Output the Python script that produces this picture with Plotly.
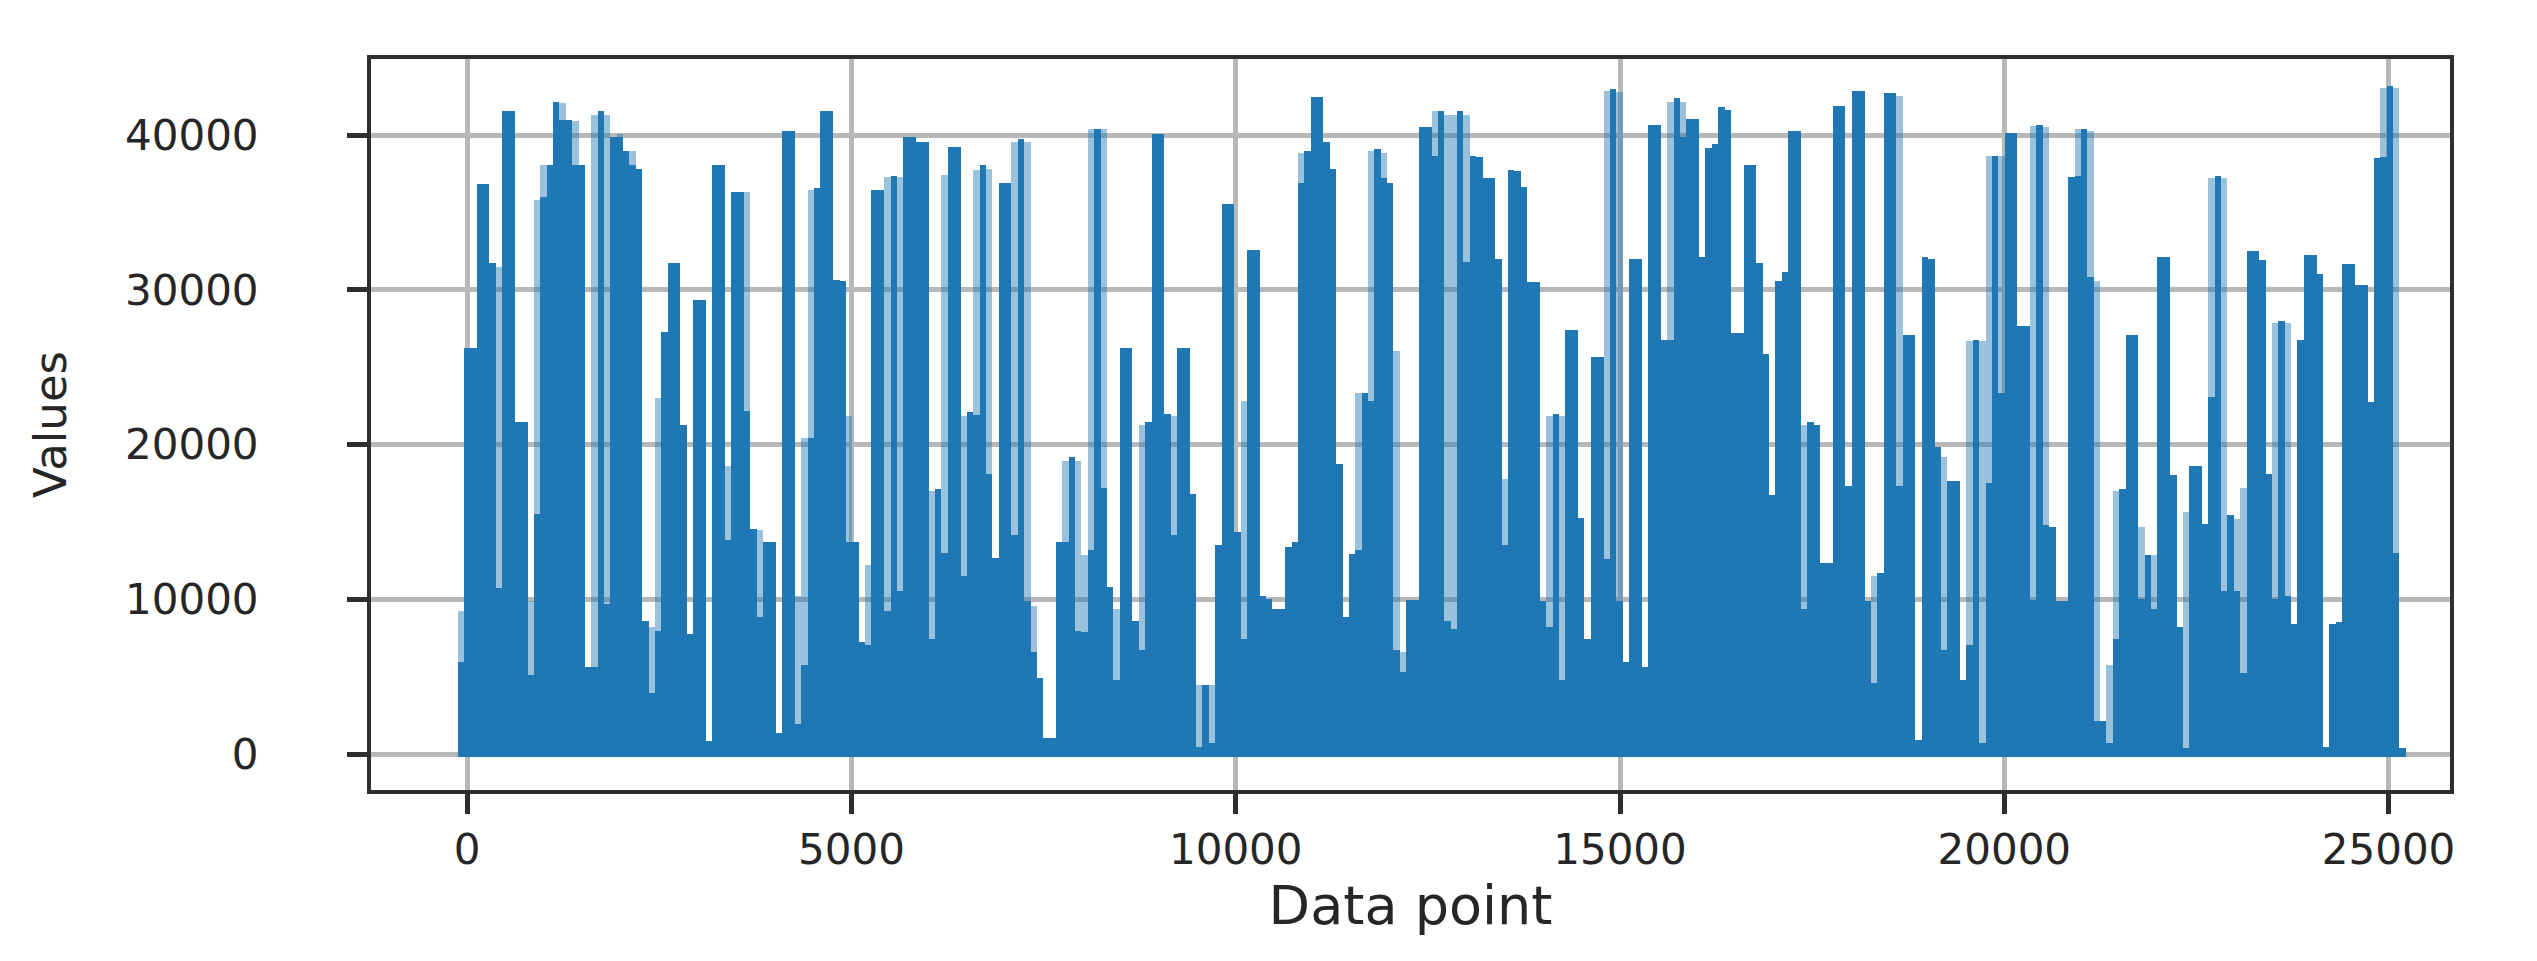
import numpy as np
import plotly.graph_objects as go

# Tallest reach in each plotted column (pale cap included)
peak_values = [
9230,26220,26220,36870,36870,31730,31500,41560,41560,21500,
21500,9890,35780,38090,38090,42150,42050,40990,40900,38090,
5610,41290,41560,41290,39910,40070,38980,38980,37830,8580,
8250,22990,27310,31730,31730,21270,7750,29350,29350,830,
38090,38090,18630,36340,36340,36340,14580,14510,13690,13690,
1390,40300,40300,10220,20450,36440,36610,41560,41560,30670,
30600,21830,13690,7260,12200,36440,36440,37270,37330,37270,
39910,39910,39580,39580,16990,17150,37430,39250,39250,21830,
22100,37760,38090,37830,12700,36940,36940,39580,39740,39580,
9560,4950,1060,1060,13690,18960,19190,18960,12860,40400,
40400,40400,10820,9400,26220,26220,8580,21270,21500,40070,
40070,22000,21830,26220,26220,16820,4450,4450,4450,13520,
35550,35550,14350,22820,32580,32580,10220,10060,9400,9400,
13420,13690,38850,38980,42480,42480,39580,37830,18730,8840,
12930,23320,23320,38980,39080,38850,36940,26050,6600,9960,
9960,40500,40500,41560,41560,41290,41290,41560,41290,38650,
38590,37200,37200,31990,17810,37760,37660,36670,30510,30510,
9890,21830,22000,21830,27440,27440,15240,7420,25660,25660,
42870,43010,42810,5940,31990,31990,5670,40630,40630,26780,
42150,42380,42150,41060,41060,32160,39180,39410,41820,41620,
27210,27210,38090,38090,31730,25890,16720,30600,31170,40300,
40300,21270,21500,21270,12370,12370,41890,41890,17310,42870,
42870,9890,11540,11710,42710,42710,42540,27110,27110,920,
32160,31990,19850,19190,17640,17640,4780,26710,26780,26710,
38650,38650,38650,40140,40140,27700,27700,40560,40630,40500,
14680,9890,9890,37270,40400,40400,40240,30600,2140,5770,
16980,17150,27110,27110,14680,12860,12860,32160,32160,18070,
8250,15660,18630,18630,14910,37200,37330,37200,15430,15170,
17220,32490,32490,31920,18140,27870,27970,27870,8410,26780,
32250,32250,31000,490,8410,8570,31660,31660,30340,30340,
22760,38520,43040,43200,43040,400]

# Height up to which the same column is fully solid
solid_values = [
5940,26220,26220,36870,36870,31730,10720,41560,41560,21500,
21500,5110,15500,36010,38090,42150,40990,40990,38090,38090,
5610,5670,41560,9730,39910,39910,38980,38090,37830,8580,
3960,7980,27310,31730,31730,21270,7750,29350,29350,830,
38090,38090,13850,36340,36340,22160,14580,8900,13690,13690,
1390,40300,40300,1980,5770,20450,36610,41560,41560,30670,
30600,13690,13690,7260,7090,36440,36440,9230,37330,10550,
39910,39910,39580,39580,7420,17150,13030,39250,39250,11540,
22100,21930,38090,18140,12700,36940,36940,14180,39740,9890,
6600,4950,1060,1060,13690,13690,19190,7980,7920,13190,
40400,17220,10820,4780,26220,26220,8580,6760,21500,40070,
40070,22000,14180,26220,26220,16820,500,4450,730,13520,
35550,35550,14350,7420,32580,32580,10220,10060,9400,9400,
13420,13690,36940,38980,42480,42480,39580,37830,18730,8840,
12930,13190,23320,22820,39080,37200,36940,6760,5340,9960,
9960,40500,40500,38650,41560,8580,8080,41560,31830,38650,
38590,37200,37200,31990,13520,37760,37660,36670,30510,30510,
9890,8250,22000,4780,27440,27440,15240,7420,25660,25660,
12600,43010,9890,5940,31990,31990,5670,40630,40630,26780,
26780,42380,39910,41060,41060,32160,39180,39410,41820,41620,
27210,27210,38090,38090,31730,25890,16720,30600,31170,40300,
40300,9400,21500,21270,12370,12370,41890,41890,17310,42870,
42870,9890,4620,11710,42710,42710,17310,27110,27110,920,
32160,31990,19850,6760,17640,17640,4780,7090,26780,730,
17550,38650,23350,40140,40140,27700,27700,9960,40630,14840,
14680,9890,9890,37270,37330,40400,30840,2140,2140,730,
7420,17150,27110,27110,10060,12860,9400,32160,32160,18070,
8250,400,18630,18630,14910,23090,37330,10550,15430,10550,
5280,32490,32490,31920,18140,10060,27970,10220,8410,26780,
32250,32250,31000,490,8410,8570,31660,31660,30340,30340,
22760,38520,38590,43200,13030,400]

assert len(peak_values) == len(solid_values) == 306

first_column_x = -84
column_step = 82.84
column_x = first_column_x + column_step * np.arange(len(peak_values))
floor_value = -170

x_ticks = [0, 5000, 10000, 15000, 20000, 25000]
y_ticks = [0, 10000, 20000, 30000, 40000]

BLUE = "#1f77b4"
INK = "#262626"
SPINE = "#2e2e2e"

fig = go.Figure()
fig.add_bar(x=column_x, y=np.array(peak_values) - floor_value, base=floor_value,
            width=column_step, marker=dict(color="rgba(31,119,180,0.45)", line_width=0),
            hoverinfo="skip")
fig.add_bar(x=column_x, y=np.array(solid_values) - floor_value, base=floor_value,
            width=column_step, marker=dict(color=BLUE, line_width=0),
            hoverinfo="skip")

axis = dict(
    showline=True, mirror=True, linecolor=SPINE, linewidth=4,
    showgrid=True, gridcolor="#b8b8b8", gridwidth=5, zeroline=False,
    ticks="outside", ticklen=20, tickwidth=5, tickcolor=SPINE,
    tickfont=dict(family="DejaVu Sans", size=42, color=INK),
)
fig.update_xaxes(axis, range=[-1252, 25800], tickvals=x_ticks,
                 ticktext=[str(t) for t in x_ticks], ticklabelstandoff=0,
                 title=dict(text="Data point", font=dict(family="DejaVu Sans", size=54, color=INK), standoff=6))
fig.update_yaxes(axis, range=[-2307, 44920], tickvals=y_ticks,
                 ticktext=[str(t) for t in y_ticks], ticklabelstandoff=80,
                 title=dict(text="Values", font=dict(family="DejaVu Sans", size=45, color=INK), standoff=45))
fig.update_layout(
    width=2537, height=961, barmode="overlay", bargap=0, showlegend=False,
    paper_bgcolor="white", plot_bgcolor="white",
    margin=dict(l=363, r=95, t=51, b=179, autoexpand=False),
)
fig.write_html("out.html")
